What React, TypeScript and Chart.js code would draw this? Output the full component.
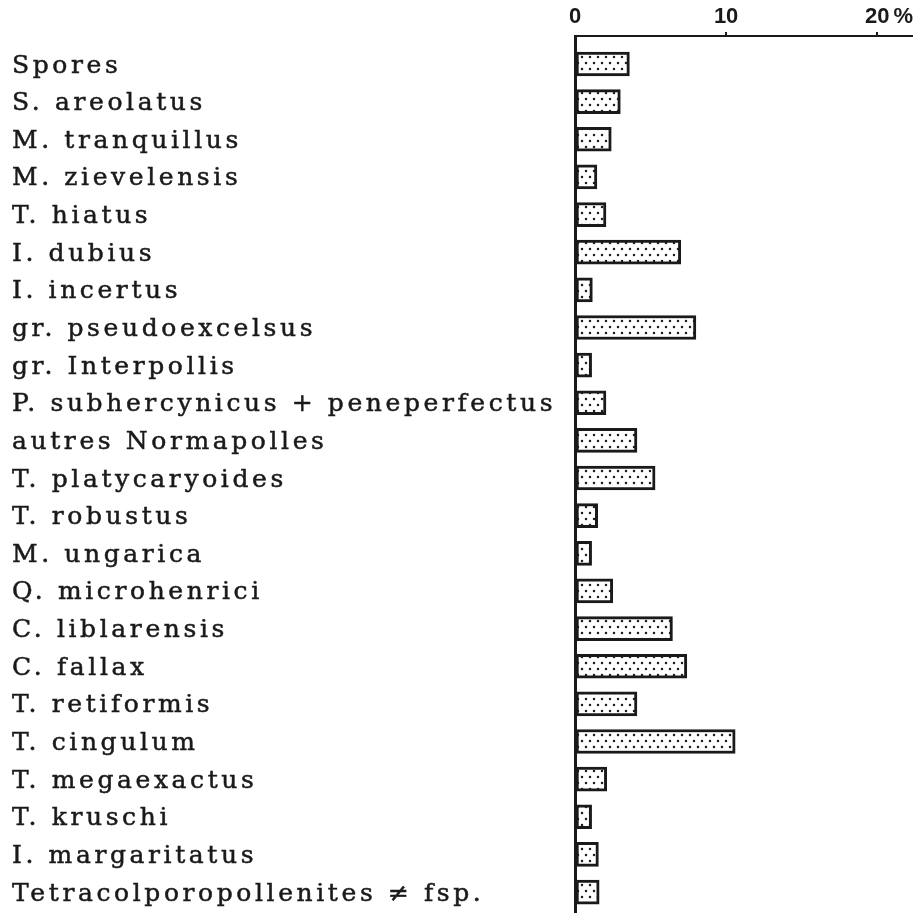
import { useEffect, useRef } from 'react';
import { Chart, registerables } from 'chart.js';

Chart.register(...registerables);

const categories = [
  'Spores',
  'S. areolatus',
  'M. tranquillus',
  'M. zievelensis',
  'T. hiatus',
  'I. dubius',
  'I. incertus',
  'gr. pseudoexcelsus',
  'gr. Interpollis',
  'P. subhercynicus + peneperfectus',
  'autres Normapolles',
  'T. platycaryoides',
  'T. robustus',
  'M. ungarica',
  'Q. microhenrici',
  'C. liblarensis',
  'C. fallax',
  'T. retiformis',
  'T. cingulum',
  'T. megaexactus',
  'T. kruschi',
  'I. margaritatus',
  'Tetracolporopollenites \u2260 fsp.',
];

const percentages = [
  3.6, 3.0, 2.4, 1.45, 2.05, 7.0, 1.15, 8.0, 1.1, 2.05, 4.1, 5.3,
  1.5, 1.1, 2.5, 6.45, 7.4, 4.1, 10.6, 2.1, 1.1, 1.55, 1.6,
];

const xTickValues = [0, 10, 20];
const percentSign = '%';

const INK = '#1a1a1a';
const TICK_FONT_SIZE = 22;
const TICK_FONT_FAMILY = '"Liberation Sans Narrow", "Liberation Sans", Arial, sans-serif';
const TICK_PAD = 2;
const TICK_LEN = 4;

export default function App() {
  const ref = useRef<HTMLCanvasElement>(null);

  useEffect(() => {
    document.body.style.margin = '0';
    document.body.style.overflow = 'hidden';
    const canvas = ref.current!;

    const tile = document.createElement('canvas');
    tile.width = 8;
    tile.height = 12;
    const t = tile.getContext('2d')!;
    t.fillStyle = '#ffffff';
    t.fillRect(0, 0, 8, 12);
    t.fillStyle = '#1e1e1e';
    t.beginPath();
    t.arc(2, 3, 1.25, 0, Math.PI * 2);
    t.fill();
    t.beginPath();
    t.arc(6, 9, 1.25, 0, Math.PI * 2);
    t.fill();
    const pattern = canvas.getContext('2d')!.createPattern(tile, 'repeat')!;

    const labelPlugin = {
      id: 'rowLabels',
      afterDraw(chart: any) {
        const ctx = chart.ctx as CanvasRenderingContext2D;
        const ys = chart.scales.y;
        const xs = chart.scales.x;
        ctx.save();
        ctx.fillStyle = INK;
        ctx.strokeStyle = INK;
        ctx.lineWidth = 0.5;
        ctx.textAlign = 'left';
        ctx.textBaseline = 'middle';
        ctx.font = '25px "DejaVu Serif", "Liberation Serif", serif';
        (ctx as any).letterSpacing = '3.6px';
        categories.forEach((c, i) => {
          const yy = ys.getPixelForValue(i) + 2;
          ctx.fillText(c, 12, yy);
          ctx.strokeText(c, 12, yy);
        });
        (ctx as any).letterSpacing = '0px';
        ctx.font = `bold ${TICK_FONT_SIZE}px ${TICK_FONT_FAMILY}`;
        const lastTick = xTickValues[xTickValues.length - 1];
        const px = xs.getPixelForValue(lastTick);
        const w = ctx.measureText(String(lastTick)).width;
        const lineHeight = TICK_FONT_SIZE * 1.2;
        const yy = xs.bottom - TICK_LEN - TICK_PAD - lineHeight / 2;
        ctx.fillText(percentSign, px + w / 2 + 4, yy);
        ctx.restore();
      },
    };

    const chart = new Chart(canvas, {
      type: 'bar',
      data: {
        datasets: [
          {
            data: percentages.map((v, i) => ({ x: v, y: i })),
            backgroundColor: pattern,
            borderColor: INK,
            borderWidth: 3,
            borderSkipped: false,
            barThickness: 24,
          } as any,
        ],
      },
      options: {
        responsive: false,
        animation: false,
        indexAxis: 'y',
        devicePixelRatio: 1,
        layout: { padding: { left: 575, right: 3, top: 0, bottom: 1 } },
        plugins: { legend: { display: false }, tooltip: { enabled: false } },
        scales: {
          x: {
            type: 'linear',
            position: 'top',
            min: 0,
            max: 22.3,
            offset: false,
            bounds: 'data',
            afterFit(scale: any) {
              scale.height = 36;
            },
            afterBuildTicks(scale: any) {
              scale.ticks = xTickValues.map((v) => ({ value: v }));
            },
            ticks: {
              includeBounds: false,
              stepSize: 10,
              padding: TICK_PAD,
              color: INK,
              font: { size: TICK_FONT_SIZE, weight: 'bold', family: TICK_FONT_FAMILY },
              maxRotation: 0,
              callback: (v: any) => String(v),
            },
            grid: {
              display: true,
              offset: false,
              drawOnChartArea: false,
              drawTicks: true,
              tickLength: TICK_LEN,
              lineWidth: 2,
              color: (c: any) => (c.tick && c.tick.value === 0 ? 'rgba(0,0,0,0)' : INK),
            },
            border: { display: true, color: INK, width: 2 },
          },
          y: {
            type: 'linear',
            reverse: true,
            offset: false,
            bounds: 'data',
            min: -0.744,
            max: 22.53,
            afterFit(scale: any) {
              scale.width = 0;
            },
            ticks: { display: false },
            grid: { display: false, drawTicks: false, offset: false },
            border: { display: true, color: INK, width: 3 },
          },
        },
      } as any,
      plugins: [labelPlugin],
    });

    return () => chart.destroy();
  }, []);

  return (
    <div style={{ width: 915, height: 913, background: '#fff' }}>
      <canvas ref={ref} width={915} height={913} style={{ display: 'block' }} />
    </div>
  );
}
